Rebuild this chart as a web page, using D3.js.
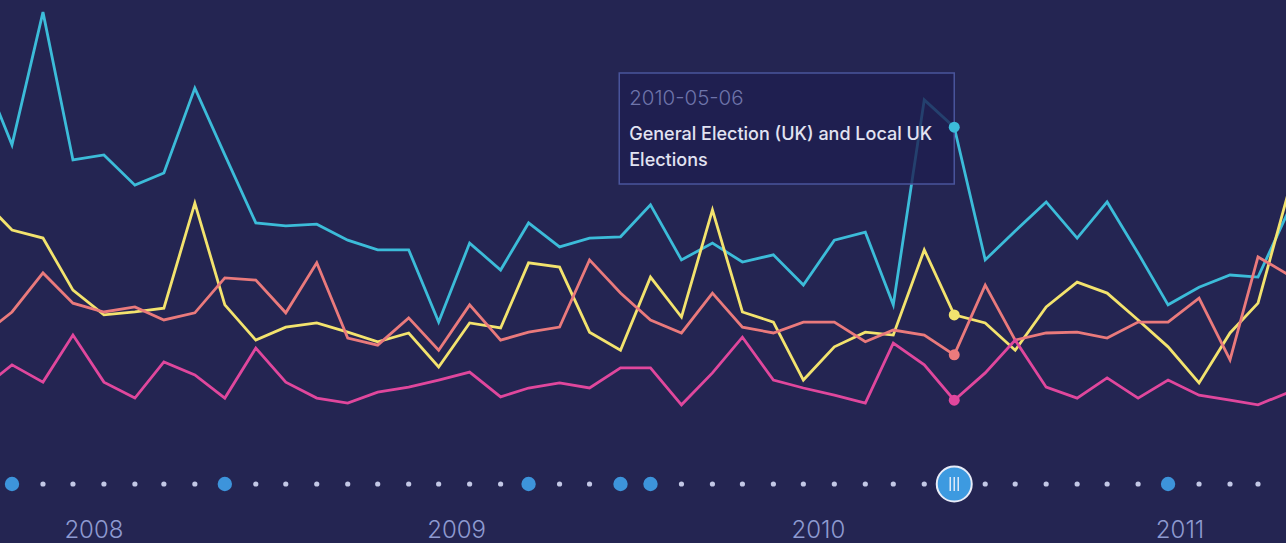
<!DOCTYPE html>
<html>
<head>
<meta charset="utf-8">
<script src="https://cdn.jsdelivr.net/npm/d3@7"></script>
<style>
  html, body { margin: 0; padding: 0; background: #242552; overflow: hidden; }
  svg { display: block; font-family: Inter, "Noto Sans", sans-serif; }
</style>
</head>
<body>
<script>
// monthly points, Sep 2007 .. Apr 2011
const months = [
  "2007-09", "2007-10", "2007-11", "2007-12",
  "2008-01", "2008-02", "2008-03", "2008-04", "2008-05", "2008-06",
  "2008-07", "2008-08", "2008-09", "2008-10", "2008-11", "2008-12",
  "2009-01", "2009-02", "2009-03", "2009-04", "2009-05", "2009-06",
  "2009-07", "2009-08", "2009-09", "2009-10", "2009-11", "2009-12",
  "2010-01", "2010-02", "2010-03", "2010-04", "2010-05", "2010-06",
  "2010-07", "2010-08", "2010-09", "2010-10", "2010-11", "2010-12",
  "2011-01", "2011-02", "2011-03", "2011-04"
];

const cyanSeries = [85.7, 67.9, 99.5, 64.3, 65.5, 58.3, 61.2, 81.4, 65.5, 49.3, 48.6, 49.0,
  45.2, 42.9, 42.9, 25.7, 44.5, 38.1, 49.3, 43.6, 45.7, 46.0, 53.6, 40.5, 44.5, 40.0,
  41.7, 34.5, 45.2, 47.1, 29.8, 78.6, 72.1, 40.5, 47.4, 54.3, 45.7, 54.3, 42.1, 29.8,
  34.0, 36.9, 36.4, 52.4];

const yellowSeries = [55.0, 47.6, 45.7, 33.3, 27.4, 28.1, 29.0, 54.0, 29.8, 21.4, 24.5, 25.5,
  23.3, 21.0, 23.1, 15.0, 25.5, 24.3, 39.8, 38.8, 23.3, 19.0, 36.4, 26.9, 52.4, 28.1,
  25.7, 11.9, 19.8, 23.3, 22.6, 42.9, 27.4, 25.5, 19.0, 29.3, 35.2, 32.6, 26.2, 19.8,
  11.2, 23.1, 30.2, 57.1];

const salmonSeries = [22.4, 28.1, 37.4, 30.2, 28.1, 29.3, 26.2, 27.9, 36.2, 35.7, 27.9, 39.8,
  21.9, 20.2, 26.7, 19.0, 29.8, 21.4, 23.3, 24.5, 40.5, 32.6, 26.2, 23.1, 32.6, 24.5,
  23.1, 25.7, 25.7, 21.0, 23.8, 22.6, 17.9, 34.5, 21.4, 23.1, 23.3, 21.9, 25.7, 25.7,
  31.4, 16.7, 41.2, 36.9];

const magentaSeries = [9.8, 15.5, 11.4, 22.6, 11.4, 7.6, 16.2, 13.1, 7.6, 19.5, 11.4, 7.6,
  6.4, 9.0, 10.2, 11.9, 13.8, 7.9, 10.0, 11.2, 10.0, 14.8, 14.8, 6.0, 13.6, 22.1,
  11.9, 10.0, 8.3, 6.4, 20.7, 15.5, 7.1, 13.6, 21.4, 10.2, 7.6, 12.4, 7.6, 11.9,
  8.3, 7.1, 6.0, 9.0];

const seriesColors = ["#3cbcd9", "#f3e36e", "#ea7a7c", "#e0479d"];

// months carrying an event on the timeline
const eventMonths = ["2007-10", "2008-05", "2009-03", "2009-06", "2009-07", "2010-05", "2010-12"];
const selectedMonth = "2010-05";
const tipDate = "2010-05-06";
const tipTitle = ["General Election (UK) and Local UK", "Elections"];

const yearTicks = ["2008", "2009", "2010", "2011"];

const W = 1286, H = 543;
const parseMonth = d3.timeParse("%Y-%m");
const mid = m => d3.timeDay.offset(parseMonth(m), 14);

const x = d3.scaleTime()
  .domain([mid("2007-10"), mid("2011-03")])
  .range([12, 1258]);

const y = d3.scaleLinear()
  .domain([0, 100])
  .range([430, 10]);

const svg = d3.select("body").append("svg")
  .attr("width", W)
  .attr("height", H);

svg.append("rect").attr("width", W).attr("height", H).attr("fill", "#242552");

const allSeries = [cyanSeries, yellowSeries, salmonSeries, magentaSeries];

const line = d3.line()
  .x((d, i) => x(mid(months[i])))
  .y(d => y(d));

// lines
svg.selectAll(".series")
  .data(allSeries)
  .enter()
  .append("path")
    .attr("class", "series")
    .attr("d", line)
    .attr("fill", "none")
    .attr("stroke", (d, i) => seriesColors[i])
    .attr("stroke-width", 2.8)
    .attr("stroke-linejoin", "miter");

// tooltip
const selX = x(mid(selectedMonth));
const tipW = 335, tipH = 111;
const tip = svg.append("g")
  .attr("transform", "translate(" + (selX - tipW) + ",73)");

tip.append("rect")
  .attr("width", tipW)
  .attr("height", tipH)
  .attr("fill", "#1d1e50")
  .attr("fill-opacity", 0.78)
  .attr("stroke", "#4a559c")
  .attr("stroke-width", 1.5);

tip.append("text")
  .attr("x", 10).attr("y", 32)
  .attr("fill", "#6e74aa")
  .attr("font-size", 20.5)
  .attr("font-weight", 300)
  .text(tipDate);

tip.selectAll(".tt")
  .data(tipTitle)
  .enter()
  .append("text")
    .attr("x", 10)
    .attr("y", (d, i) => 67 + i * 26)
    .attr("fill", "#e2e3f2")
    .attr("font-size", 18)
    .attr("font-weight", 500)
    .text(d => d);

// markers on the selected month
const selIdx = months.indexOf(selectedMonth);
svg.selectAll(".marker")
  .data(allSeries)
  .enter()
  .append("circle")
    .attr("cx", selX)
    .attr("cy", d => y(d[selIdx]))
    .attr("r", 5.5)
    .attr("fill", (d, i) => seriesColors[i]);

// timeline dots
const tlY = 484;
const plain = months.filter(m => eventMonths.indexOf(m) < 0);
svg.selectAll(".dot")
  .data(plain)
  .enter()
  .append("circle")
    .attr("cx", m => x(mid(m)))
    .attr("cy", tlY)
    .attr("r", 2.6)
    .attr("fill", "#c3c8e6");

svg.selectAll(".ev")
  .data(eventMonths.filter(m => m !== selectedMonth))
  .enter()
  .append("circle")
    .attr("cx", m => x(mid(m)))
    .attr("cy", tlY)
    .attr("r", 7.2)
    .attr("fill", "#3d94db");

// handle
const handle = svg.append("g").attr("transform", "translate(" + selX + "," + tlY + ")");
handle.append("circle")
  .attr("r", 17.5)
  .attr("fill", "#3d9ae0")
  .attr("stroke", "#e8ecf8")
  .attr("stroke-width", 2);
handle.selectAll("line")
  .data([-4, 0, 4])
  .enter()
  .append("line")
    .attr("x1", d => d).attr("x2", d => d)
    .attr("y1", -7).attr("y2", 7)
    .attr("stroke", "#dfe9f8")
    .attr("stroke-width", 1.5);

// year labels
svg.selectAll(".year")
  .data(yearTicks)
  .enter()
  .append("text")
    .attr("x", d => x(d3.timeParse("%Y")(d)) + (2008 - +d) * 3 + 4)
    .attr("y", 538)
    .attr("text-anchor", "middle")
    .attr("fill", "#8e9ad0")
    .attr("font-size", 24)
    .attr("font-weight", 300)
    .text(d => d);
</script>
</body>
</html>
